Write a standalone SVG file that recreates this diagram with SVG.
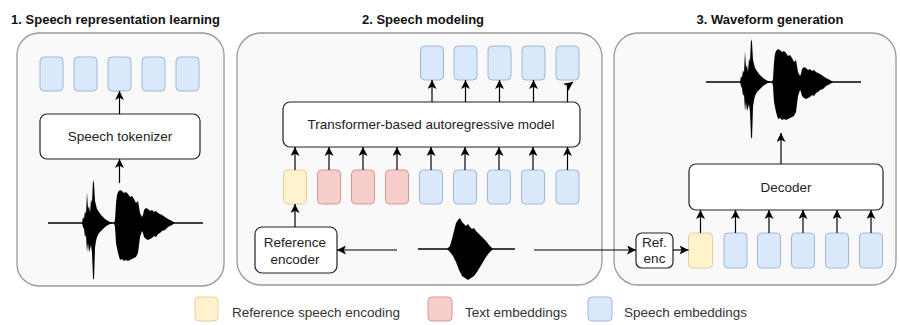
<svg xmlns="http://www.w3.org/2000/svg" width="900" height="325" viewBox="0 0 900 325">
<style>
.panel{fill:#f9f9f9;stroke:#999;stroke-width:1.3}
.box{fill:#ffffff;stroke:#222;stroke-width:1.2}
.tb{fill:#dae8fc;stroke:#a2b6d4;stroke-width:1}
.tr{fill:#f8cecc;stroke:#d39896;stroke-width:1}
.ty{fill:#fff2cc;stroke:#e3d09a;stroke-width:1}
.title{font-family:"Liberation Sans",Arial,sans-serif;font-weight:bold;font-size:13px;fill:#111;text-anchor:middle}
.lbl{font-family:"Liberation Sans",Arial,sans-serif;font-size:13.5px;fill:#222;text-anchor:middle}
.leg{font-family:"Liberation Sans",Arial,sans-serif;font-size:13.5px;fill:#333}
.arr{fill:none;stroke:#000;stroke-width:1.2;marker-end:url(#ah)}
.ln{fill:none;stroke:#000;stroke-width:1.3}
.wave{fill:#000}
</style>
<defs>
<marker id="ah" markerUnits="userSpaceOnUse" markerWidth="10" markerHeight="9" refX="9" refY="4.5" orient="auto">
<path d="M0,0 L9,4.5 L0,9 L2.2,4.5 Z" fill="#000"/>
</marker>
<g id="wf">
<line x1="0" y1="0" x2="155" y2="0" stroke="#000" stroke-width="1.3"/>
<path class="wave" d="M34,0 L35,-6 L36,-4 L37,-12 L38,-9 L39,-31 L40,-14 L41,-17 L42,-10 L43,-24 L44,-20 L45,-43 L46,-40 L47,-22 L48,-18 L49,-14 L51,-11 L53,-8 L55,-6 L57,-4 L60,-2 L62,-1 L66,0 L67,-3 L68,-20 L69,-28 L70,-31 L72,-33 L74,-32 L76,-30 L78,-31 L80,-29 L82,-26 L84,-27 L86,-24 L88,-20 L90,-22 L92,-10 L94,-6 L95,-8 L96,-13 L98,-15 L100,-14 L102,-12 L104,-13 L106,-11 L108,-12 L110,-10 L112,-9 L114,-8 L117,-6 L120,-4 L124,-2 L127,0 L124,2 L120,4 L117,7 L114,8 L112,10 L110,11 L108,14 L106,13 L104,15 L102,16 L100,17 L98,16 L96,14 L95,10 L94,8 L92,14 L90,30 L88,34 L86,35 L84,36 L82,37 L80,38 L78,37 L76,38 L74,36 L72,37 L70,30 L68,20 L67,4 L66,0 L62,1 L60,2 L57,4 L55,6 L53,8 L51,10 L49,14 L48,18 L47,25 L46,57 L45,55 L44,30 L43,22 L42,26 L41,29 L40,20 L39,29 L38,12 L37,14 L36,6 L35,4 Z"/>
</g>
</defs>

<g id="titles">
<text class="title" x="115.5" y="24">1. Speech representation learning</text>
<text class="title" x="423" y="24">2. Speech modeling</text>
<text class="title" x="770" y="24">3. Waveform generation</text>
</g>

<g id="panel1">
<rect class="panel" x="17" y="33" width="207" height="253" rx="22"/>
</g>
<g id="panel2">
<rect class="panel" x="237" y="33" width="365" height="252" rx="24"/>
</g>
<g id="panel3">
<rect class="panel" x="614" y="33" width="282" height="252" rx="24"/>
</g>

<g id="p1-tokens">
<rect class="tb" x="40" y="57" width="23" height="34" rx="4"/>
<rect class="tb" x="74" y="57" width="23" height="34" rx="4"/>
<rect class="tb" x="108" y="57" width="23" height="34" rx="4"/>
<rect class="tb" x="142" y="57" width="23" height="34" rx="4"/>
<rect class="tb" x="176" y="57" width="23" height="34" rx="4"/>
</g>
<g id="speech-tokenizer">
<rect class="box" x="40" y="114" width="160" height="45" rx="7"/>
<text class="lbl" x="120" y="141">Speech tokenizer</text>
</g>
<g id="p1-waveform">
<use href="#wf" transform="translate(48,223)"/>
</g>

<g id="p2-out-tokens">
<rect class="tb" x="420.5" y="46" width="23" height="34" rx="4"/>
<rect class="tb" x="454" y="46" width="23" height="34" rx="4"/>
<rect class="tb" x="488" y="46" width="23" height="34" rx="4"/>
<rect class="tb" x="522" y="46" width="23" height="34" rx="4"/>
<rect class="tb" x="556" y="46" width="23" height="34" rx="4"/>
</g>
<g id="transformer">
<rect class="box" x="283" y="102" width="297" height="45" rx="7"/>
<text class="lbl" x="431" y="129">Transformer-based autoregressive model</text>
</g>
<g id="p2-in-tokens">
<rect class="ty" x="283.5" y="170" width="23" height="34" rx="4"/>
<rect class="tr" x="317.5" y="170" width="23" height="34" rx="4"/>
<rect class="tr" x="351.5" y="170" width="23" height="34" rx="4"/>
<rect class="tr" x="385.5" y="170" width="23" height="34" rx="4"/>
<rect class="tb" x="419.5" y="170" width="23" height="34" rx="4"/>
<rect class="tb" x="453.5" y="170" width="23" height="34" rx="4"/>
<rect class="tb" x="487.5" y="170" width="23" height="34" rx="4"/>
<rect class="tb" x="521.5" y="170" width="23" height="34" rx="4"/>
<rect class="tb" x="556" y="170" width="23" height="34" rx="4"/>
</g>
<g id="reference-encoder">
<rect class="box" x="255" y="227" width="82" height="46" rx="7"/>
<text class="lbl" x="295" y="247">Reference</text>
<text class="lbl" x="295" y="264">encoder</text>
</g>
<g id="p2-waveform">
<line class="ln" x1="418" y1="249" x2="515" y2="249"/>
<path class="wave" d="M447,249 L450,246 L452,239 L454,231 L456,223 L458,220 L460,218 L462,222 L464,224 L466,226 L468,224 L470,227 L472,229 L474,228 L476,231 L478,233 L480,235 L483,238 L486,241 L489,245 L493,249 L489,253 L486,257 L483,262 L480,267 L477,272 L474,276 L471,278 L468,280 L465,278 L462,276 L459,270 L456,262 L453,256 L450,252 Z"/>
</g>

<g id="ref-enc">
<rect class="box" x="636" y="233" width="37" height="35" rx="6"/>
<text class="lbl" x="654.5" y="247">Ref.</text>
<text class="lbl" x="654.5" y="263">enc</text>
</g>
<g id="p3-tokens">
<rect class="ty" x="688.5" y="233" width="24" height="35" rx="4"/>
<rect class="tb" x="724" y="233" width="23" height="35" rx="4"/>
<rect class="tb" x="757.5" y="233" width="23" height="35" rx="4"/>
<rect class="tb" x="791.5" y="233" width="23" height="35" rx="4"/>
<rect class="tb" x="825.5" y="233" width="23" height="35" rx="4"/>
<rect class="tb" x="859.5" y="233" width="23" height="35" rx="4"/>
</g>
<g id="decoder">
<rect class="box" x="689" y="164" width="194" height="46" rx="7"/>
<text class="lbl" x="786" y="192">Decoder</text>
</g>
<g id="p3-waveform">
<use href="#wf" transform="translate(706,82)"/>
</g>

<g id="connectors">
<line class="arr" x1="119.5" y1="114" x2="119.5" y2="91"/>
<line class="arr" x1="119.5" y1="183" x2="119.5" y2="159"/>

<line class="arr" x1="432" y1="102" x2="432" y2="80"/>
<line class="arr" x1="465.5" y1="102" x2="465.5" y2="80"/>
<line class="arr" x1="499.5" y1="102" x2="499.5" y2="80"/>
<line class="arr" x1="533.5" y1="102" x2="533.5" y2="80"/>
<path class="arr" d="M567.5,102 L567.5,86 L573,82"/>

<line class="arr" x1="295" y1="170" x2="295" y2="147"/>
<line class="arr" x1="329" y1="170" x2="329" y2="147"/>
<line class="arr" x1="363" y1="170" x2="363" y2="147"/>
<line class="arr" x1="397" y1="170" x2="397" y2="147"/>
<line class="arr" x1="431" y1="170" x2="431" y2="147"/>
<line class="arr" x1="465" y1="170" x2="465" y2="147"/>
<line class="arr" x1="499" y1="170" x2="499" y2="147"/>
<line class="arr" x1="533" y1="170" x2="533" y2="147"/>
<line class="arr" x1="567.5" y1="170" x2="567.5" y2="147"/>

<line class="arr" x1="295" y1="227" x2="295" y2="204"/>
<line class="arr" x1="397" y1="250" x2="337" y2="250"/>
<line class="arr" x1="534" y1="250" x2="636" y2="250"/>
<line class="arr" x1="673" y1="250" x2="688.5" y2="250"/>

<line class="arr" x1="700.5" y1="233" x2="700.5" y2="210"/>
<line class="arr" x1="735.5" y1="233" x2="735.5" y2="210"/>
<line class="arr" x1="769" y1="233" x2="769" y2="210"/>
<line class="arr" x1="803" y1="233" x2="803" y2="210"/>
<line class="arr" x1="837" y1="233" x2="837" y2="210"/>
<line class="arr" x1="871" y1="233" x2="871" y2="210"/>

<line class="arr" x1="781" y1="164" x2="781" y2="133"/>
</g>

<g id="legend">
<rect class="ty" x="195" y="297" width="23" height="24" rx="4"/>
<text class="leg" x="232" y="317">Reference speech encoding</text>
<rect class="tr" x="428" y="297" width="24" height="24" rx="4"/>
<text class="leg" x="465" y="317">Text embeddings</text>
<rect class="tb" x="588" y="297" width="24" height="24" rx="4"/>
<text class="leg" x="624" y="317">Speech embeddings</text>
</g>
</svg>
